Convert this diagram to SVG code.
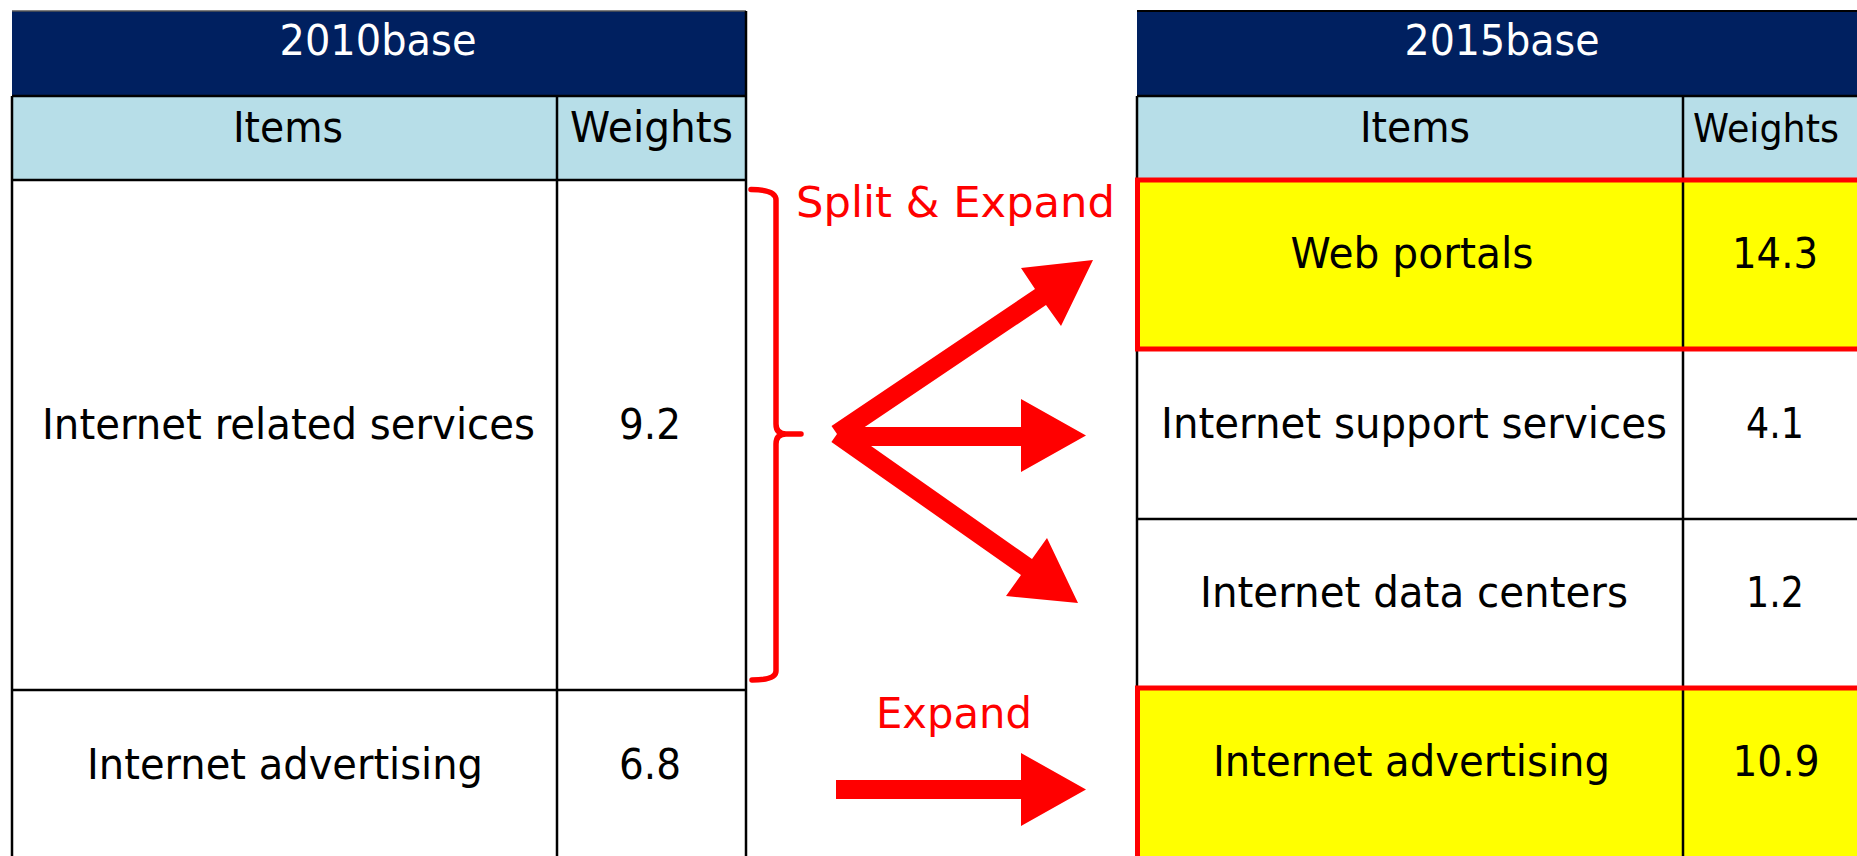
<svg xmlns="http://www.w3.org/2000/svg" width="1857" height="856" viewBox="0 0 1857 856">
<style>
.navy{fill:#002060}
.hdr{fill:#B7DEE8}
.hl{fill:#FFFF00}
.grid{stroke:#000;stroke-width:2.5;fill:none}
.redbox{stroke:#FF0000;stroke-width:5;fill:none}
text{font-family:"DejaVu Sans","Liberation Sans",sans-serif;font-size:42px;text-anchor:middle}
.t{fill:#000}
.w{fill:#fff}
.r{fill:#FF0000}
.arrow{fill:#FF0000}
.brace{stroke:#FF0000;stroke-width:5.5;fill:none;stroke-linecap:round;stroke-linejoin:round}
</style>
<rect width="1857" height="856" fill="#fff"/>

<g id="table-2010">
  <rect class="navy" x="12" y="11" width="734" height="85"/>
  <rect class="hdr" x="12" y="96" width="734" height="84"/>
  <line x1="12" y1="11" x2="746" y2="11" stroke="#555" stroke-width="1.5"/>
  <path class="grid" d="M12,96 H746 M12,180 H746 M12,690 H746 M12,96 V856 M557,96 V856 M746,11 V856"/>
  <text class="w" x="378" y="55" textLength="197" lengthAdjust="spacingAndGlyphs">2010base</text>
  <text class="t" x="288" y="142" textLength="110" lengthAdjust="spacingAndGlyphs">Items</text>
  <text class="t" x="651.5" y="142" textLength="163" lengthAdjust="spacingAndGlyphs">Weights</text>
  <g id="row-2010-related">
    <text class="t" x="288.5" y="439" textLength="493" lengthAdjust="spacingAndGlyphs">Internet related services</text>
    <text class="t" x="650" y="439" textLength="62" lengthAdjust="spacingAndGlyphs">9.2</text>
  </g>
  <g id="row-2010-advertising">
    <text class="t" x="285" y="779" textLength="396" lengthAdjust="spacingAndGlyphs">Internet advertising</text>
    <text class="t" x="650" y="779" textLength="62" lengthAdjust="spacingAndGlyphs">6.8</text>
  </g>
</g>

<g id="table-2015">
  <rect class="navy" x="1137" y="11" width="720" height="85"/>
  <rect class="hdr" x="1137" y="96" width="720" height="84"/>
  <rect class="hl" x="1137" y="180" width="720" height="169"/>
  <rect class="hl" x="1137" y="688" width="720" height="168"/>
  <line x1="1137" y1="11" x2="1857" y2="11" stroke="#000" stroke-width="2"/>
  <path class="grid" d="M1137,96 H1857 M1137,519 H1857 M1137,96 V688 M1683,96 V856"/>
  <path class="redbox" d="M1857,180 H1137.5 V349 H1857 M1857,688 H1137.5 V856"/>
  <text class="w" x="1502" y="55" textLength="195" lengthAdjust="spacingAndGlyphs">2015base</text>
  <text class="t" x="1415" y="142" textLength="110" lengthAdjust="spacingAndGlyphs">Items</text>
  <text class="t" x="1766" y="142" style="font-size:39px" textLength="146" lengthAdjust="spacingAndGlyphs">Weights</text>
  <g id="row-2015-portals">
    <text class="t" x="1412" y="268" textLength="243" lengthAdjust="spacingAndGlyphs">Web portals</text>
    <text class="t" x="1775" y="268" textLength="86" lengthAdjust="spacingAndGlyphs">14.3</text>
  </g>
  <g id="row-2015-support">
    <text class="t" x="1414" y="438" textLength="506" lengthAdjust="spacingAndGlyphs">Internet support services</text>
    <text class="t" x="1775" y="438" textLength="58" lengthAdjust="spacingAndGlyphs">4.1</text>
  </g>
  <g id="row-2015-datacenters">
    <text class="t" x="1414" y="607" textLength="428" lengthAdjust="spacingAndGlyphs">Internet data centers</text>
    <text class="t" x="1775" y="607" textLength="58" lengthAdjust="spacingAndGlyphs">1.2</text>
  </g>
  <g id="row-2015-advertising">
    <text class="t" x="1411.5" y="776" textLength="397" lengthAdjust="spacingAndGlyphs">Internet advertising</text>
    <text class="t" x="1776" y="776" textLength="87" lengthAdjust="spacingAndGlyphs">10.9</text>
  </g>
</g>

<g id="labels">
  <text class="r" x="955.5" y="217" textLength="319" lengthAdjust="spacingAndGlyphs">Split &amp; Expand</text>
  <text class="r" x="954" y="728" textLength="156" lengthAdjust="spacingAndGlyphs">Expand</text>
</g>

<g id="connectors">
  <path class="brace" d="M751,189.5 Q776,189.5 776,200 L776,424 Q776,434 786,434 L801,434 M786,434 Q776,434 776,444 L776,671 Q776,680 752,680"/>
  <polygon class="arrow" points="831.5,426 1035,289 1021,268 1093,260 1061,326 1046,305 842.5,442"/>
  <polygon class="arrow" points="837,427 1021,427 1021,399 1086,435.5 1021,472 1021,446 837,446"/>
  <polygon class="arrow" points="842.6,426 1032,559 1047,538 1078,603 1006,596 1021,575 831.4,442"/>
  <polygon class="arrow" points="836,780 1021,780 1021,753 1086,789.5 1021,826 1021,799 836,799"/>
</g>
</svg>
